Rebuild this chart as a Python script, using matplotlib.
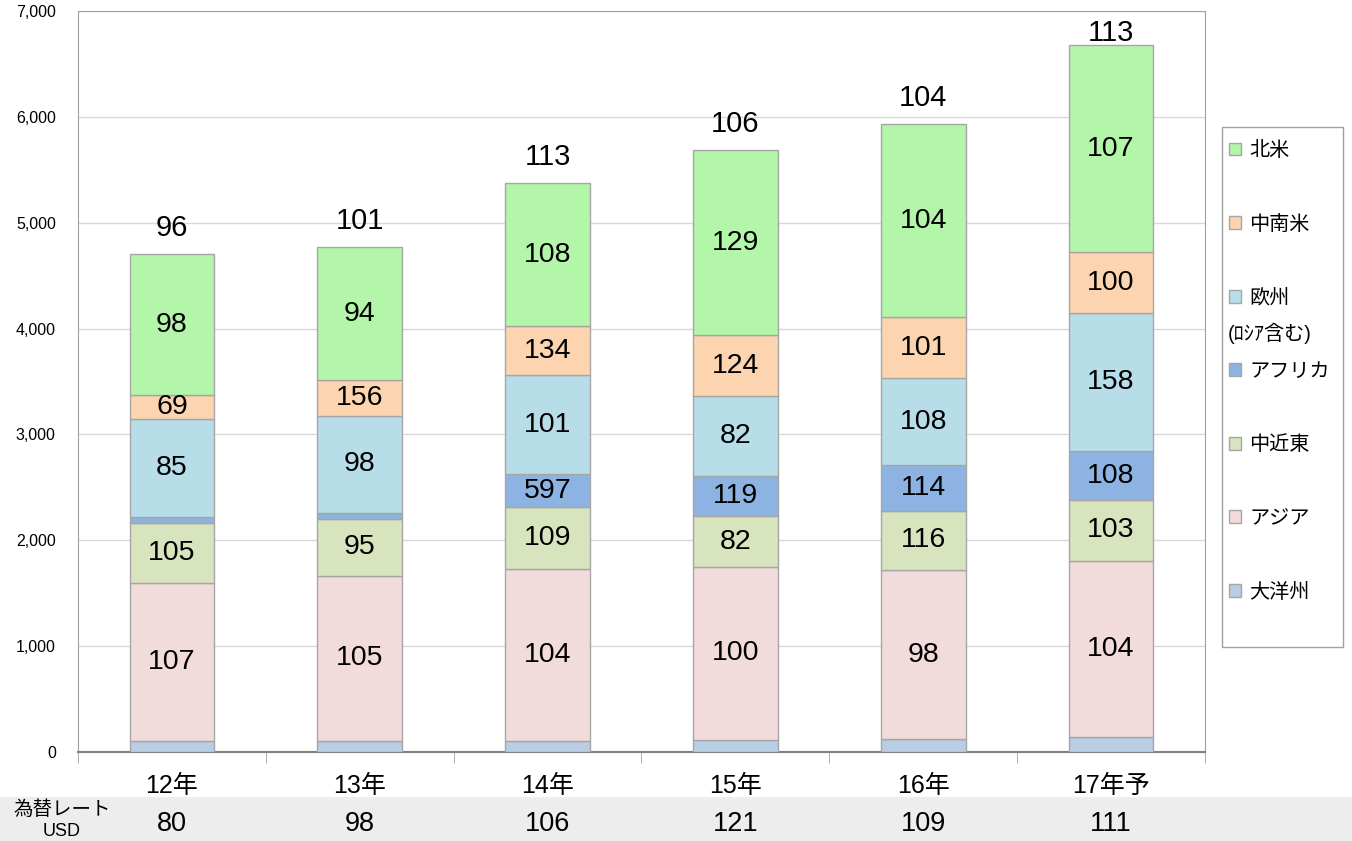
import matplotlib.pyplot as plt
import numpy as np
from matplotlib.patches import Rectangle

plt.rcParams['font.family'] = ['Liberation Sans', 'Noto Sans CJK JP', 'DejaVu Sans']

years = ['12年', '13年', '14年', '15年', '16年', '17年予']
regions = ['大洋州', 'アジア', '中近東', 'アフリカ', '欧州', '中南米', '北米']
colors = ['#b9cde5', '#f2dcdb', '#d7e4bd', '#8db3e2', '#b7dde8', '#fcd5b0', '#b3f5a9']

# segment heights per region (bottom to top)
oceania = [104, 104, 104, 113, 123, 142]
asia = [1492, 1559, 1625, 1635, 1596, 1662]
mideast = [567, 538, 585, 481, 558, 577]
africa = [57, 57, 312, 378, 434, 462]
europe = [926, 916, 935, 756, 822, 1304]
latam = [226, 340, 463, 576, 576, 576]
namerica = [1332, 1256, 1351, 1748, 1823, 1956]
values = [oceania, asia, mideast, africa, europe, latam, namerica]

# labels inside segments (None = no label)
lab_oceania = [None] * 6
lab_asia = [107, 105, 104, 100, 98, 104]
lab_mideast = [105, 95, 109, 82, 116, 103]
lab_africa = [None, None, 597, 119, 114, 108]
lab_europe = [85, 98, 101, 82, 108, 158]
lab_latam = [69, 156, 134, 124, 101, 100]
lab_namerica = [98, 94, 108, 129, 104, 107]
labels = [lab_oceania, lab_asia, lab_mideast, lab_africa, lab_europe, lab_latam, lab_namerica]

total_labels = [96, 101, 113, 106, 104, 113]
fx_rates = [80, 98, 106, 121, 109, 111]

fig = plt.figure(figsize=(13.52, 8.41), dpi=100)
ax = fig.add_axes([78 / 1352, 89 / 841, 1127 / 1352, 741 / 841])

# gray band for exchange rates
fig.patches.append(Rectangle((0, 0), 1, 44 / 841, transform=fig.transFigure,
                             facecolor='#ededed', edgecolor='none', zorder=-10))

x = np.arange(len(years))
bottom = np.zeros(len(years))
handles = []
for vals, labs, c, name in zip(values, labels, colors, regions):
    bars = ax.bar(x, vals, 0.45, bottom=bottom, color=c, edgecolor='#a6a6a6',
                  linewidth=1, label=name, zorder=3)
    handles.append(bars)
    for i, (v, l) in enumerate(zip(vals, labs)):
        if l is not None:
            ax.text(x[i], bottom[i] + v / 2, str(l), ha='center', va='center',
                    fontsize=20.5, zorder=4)
    bottom += np.array(vals)

for i, t in enumerate(total_labels):
    ax.text(x[i], min(bottom[i] + 245, 6790), str(t), ha='center', va='center',
            fontsize=21, zorder=5)

ax.set_xlim(-0.5, 5.5)
ax.set_ylim(0, 7000)
ax.set_yticks(np.arange(0, 7001, 1000))
ax.set_yticklabels([f'{v:,}' for v in range(0, 7001, 1000)], fontsize=11.5)
ax.tick_params(axis='y', length=0, pad=16)
ax.set_xticks(x)
ax.set_xticklabels(years, fontsize=18)
ax.tick_params(axis='x', length=0, pad=16)
ax.set_xticks(np.arange(-0.5, 6, 1), minor=True)
ax.tick_params(axis='x', which='minor', length=8, color='#a0a0a0')
ax.grid(axis='y', color='#d9d9d9', linewidth=1, zorder=0)
ax.set_axisbelow(True)
for s in ['top', 'right', 'left']:
    ax.spines[s].set_color('#a0a0a0')
ax.spines['bottom'].set_color('#808080')
ax.spines['bottom'].set_linewidth(1.5)

for i, r in enumerate(fx_rates):
    xf = (78 + (i + 0.5) * 1127 / 6) / 1352
    fig.text(xf, 17 / 841, str(r), ha='center', va='center', fontsize=19.5)
fig.text(62 / 1352, 31 / 841, '為替レート', ha='center', va='center', fontsize=14)
fig.text(62 / 1352, 9 / 841, 'USD', ha='center', va='center', fontsize=13)

# legend box
fig.patches.append(Rectangle((1222 / 1352, 1 - 647 / 841), 121 / 1352, 520 / 841,
                             transform=fig.transFigure, facecolor='white',
                             edgecolor='#a0a0a0', linewidth=1, zorder=1))
leg = fig.legend(handles[::-1], regions[::-1], loc='upper left',
                 bbox_to_anchor=(1219 / 1352, 1 - 131 / 841), fontsize=14.5,
                 frameon=False,
                 handlelength=0.6, handleheight=0.6, handletextpad=0.4,
                 labelspacing=2.71, borderpad=0.5, borderaxespad=0)
leg.set_zorder(5)
fig.text(1228 / 1352, 1 - 333 / 841, '(ﾛｼｱ含む)', ha='left', va='center',
         fontsize=14.5, zorder=10)

fig.savefig('out.png', dpi=100)
